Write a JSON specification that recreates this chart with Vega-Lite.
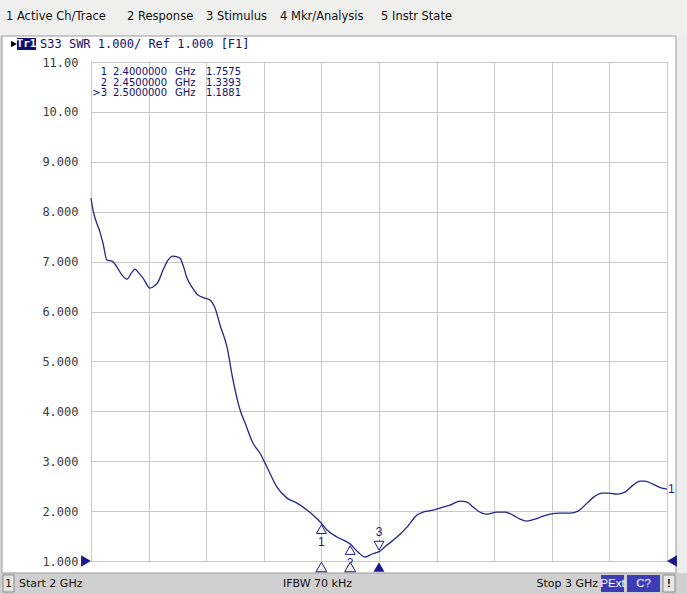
{
  "$schema": "https://vega.github.io/schema/vega-lite/v6.json",
  "width": 576,
  "height": 499,
  "autosize": {"type": "none"},
  "padding": {"left": 91, "top": 62, "right": 20, "bottom": 33},
  "background": "white",
  "config": {
    "view": {"stroke": "#8a8a8a", "strokeWidth": 1},
    "axis": {"gridColor": "#c8c8c8", "gridOpacity": 1, "gridWidth": 1}
  },
  "datasets": {
    "trace": [
      {"freq": 2.000, "swr": 8.27}, {"freq": 2.0035, "swr": 8.03}, {"freq": 2.0156, "swr": 7.59},
      {"freq": 2.0208, "swr": 7.37}, {"freq": 2.0278, "swr": 7.03}, {"freq": 2.0365, "swr": 7.01},
      {"freq": 2.0451, "swr": 6.89}, {"freq": 2.0538, "swr": 6.73}, {"freq": 2.0625, "swr": 6.65},
      {"freq": 2.0712, "swr": 6.79}, {"freq": 2.0764, "swr": 6.85}, {"freq": 2.0816, "swr": 6.79},
      {"freq": 2.0903, "swr": 6.67}, {"freq": 2.1024, "swr": 6.47}, {"freq": 2.1076, "swr": 6.49},
      {"freq": 2.1163, "swr": 6.59}, {"freq": 2.1250, "swr": 6.83}, {"freq": 2.1337, "swr": 7.03},
      {"freq": 2.1424, "swr": 7.11}, {"freq": 2.1545, "swr": 7.07}, {"freq": 2.1597, "swr": 6.93},
      {"freq": 2.1667, "swr": 6.67}, {"freq": 2.1753, "swr": 6.49}, {"freq": 2.1858, "swr": 6.33},
      {"freq": 2.1979, "swr": 6.27}, {"freq": 2.2066, "swr": 6.23}, {"freq": 2.2153, "swr": 6.07},
      {"freq": 2.2240, "swr": 5.73}, {"freq": 2.2361, "swr": 5.29}, {"freq": 2.2465, "swr": 4.63},
      {"freq": 2.2587, "swr": 4.03}, {"freq": 2.2674, "swr": 3.77}, {"freq": 2.2813, "swr": 3.36},
      {"freq": 2.2934, "swr": 3.16}, {"freq": 2.3056, "swr": 2.88}, {"freq": 2.3229, "swr": 2.48},
      {"freq": 2.3403, "swr": 2.26}, {"freq": 2.3576, "swr": 2.16}, {"freq": 2.3750, "swr": 2.02},
      {"freq": 2.3854, "swr": 1.92}, {"freq": 2.4000, "swr": 1.7575}, {"freq": 2.4097, "swr": 1.62},
      {"freq": 2.4271, "swr": 1.48}, {"freq": 2.4500, "swr": 1.3393}, {"freq": 2.4635, "swr": 1.18},
      {"freq": 2.4757, "swr": 1.08}, {"freq": 2.4878, "swr": 1.14}, {"freq": 2.5000, "swr": 1.1881},
      {"freq": 2.5139, "swr": 1.32}, {"freq": 2.5313, "swr": 1.48}, {"freq": 2.5486, "swr": 1.68},
      {"freq": 2.5660, "swr": 1.92}, {"freq": 2.5764, "swr": 1.98}, {"freq": 2.5938, "swr": 2.02},
      {"freq": 2.6111, "swr": 2.08}, {"freq": 2.6233, "swr": 2.12}, {"freq": 2.6406, "swr": 2.20},
      {"freq": 2.6528, "swr": 2.18}, {"freq": 2.6632, "swr": 2.08}, {"freq": 2.6788, "swr": 1.96},
      {"freq": 2.6875, "swr": 1.94}, {"freq": 2.7049, "swr": 1.98}, {"freq": 2.7188, "swr": 1.98},
      {"freq": 2.7326, "swr": 1.92}, {"freq": 2.7448, "swr": 1.84}, {"freq": 2.7569, "swr": 1.80},
      {"freq": 2.7708, "swr": 1.84}, {"freq": 2.7847, "swr": 1.90}, {"freq": 2.7969, "swr": 1.94},
      {"freq": 2.8142, "swr": 1.96}, {"freq": 2.8316, "swr": 1.96}, {"freq": 2.8455, "swr": 2.00},
      {"freq": 2.8611, "swr": 2.16}, {"freq": 2.8750, "swr": 2.30}, {"freq": 2.8872, "swr": 2.36},
      {"freq": 2.8976, "swr": 2.36}, {"freq": 2.9132, "swr": 2.34}, {"freq": 2.9271, "swr": 2.38},
      {"freq": 2.9410, "swr": 2.52}, {"freq": 2.9531, "swr": 2.60}, {"freq": 2.9618, "swr": 2.60},
      {"freq": 2.9757, "swr": 2.54}, {"freq": 2.9913, "swr": 2.46}, {"freq": 3.000, "swr": 2.44}
    ],
    "markers": [
      {"id": "1", "tag": "1", "freq": 2.4, "swr": 1.7575, "active": "no"},
      {"id": "2", "tag": "2", "freq": 2.45, "swr": 1.3393, "active": "no"},
      {"id": ">3", "tag": "3", "freq": 2.5, "swr": 1.1881, "active": "yes"}
    ]
  },
  "layer": [
    {
      "layer": [
        {
          "data": {"values": [{}]},
          "mark": {"type": "rect", "fill": "#efefed", "clip": false},
          "encoding": {
            "x": {"datum": 1.8, "type": "quantitative"}, "x2": {"datum": 3.1},
            "y": {"datum": 12.4, "type": "quantitative"}, "y2": {"datum": 11.521}
          }
        },
        {
          "data": {"values": [{}]},
          "mark": {"type": "rect", "fill": "#d0d0d0", "clip": false},
          "encoding": {
            "x": {"datum": 1.8, "type": "quantitative"}, "x2": {"datum": 3.1},
            "y": {"datum": 0.76, "type": "quantitative"}, "y2": {"datum": 0.2}
          }
        },
        {
          "data": {"values": [{}]},
          "mark": {"type": "rect", "fill": "#d8d8d8", "clip": false},
          "encoding": {
            "x": {"datum": 1.8, "type": "quantitative"}, "x2": {"datum": 1.8455},
            "y": {"datum": 11.521, "type": "quantitative"}, "y2": {"datum": 0.76}
          }
        },
        {
          "data": {"values": [{}]},
          "mark": {"type": "rect", "fill": "#ececec", "clip": false},
          "encoding": {
            "x": {"datum": 3.0156, "type": "quantitative"}, "x2": {"datum": 3.1},
            "y": {"datum": 11.521, "type": "quantitative"}, "y2": {"datum": 0.76}
          }
        },
        {
          "data": {"values": [{}]},
          "mark": {"type": "rect", "fill": null, "stroke": "#9a9a9a", "strokeWidth": 1, "clip": false},
          "encoding": {
            "x": {"datum": 1.8455, "type": "quantitative"}, "x2": {"datum": 3.0156},
            "y": {"datum": 11.521, "type": "quantitative"}, "y2": {"datum": 0.76}
          }
        },
        {
          "data": {"name": "trace"},
          "mark": {"type": "line", "color": "#25258a", "strokeWidth": 1.3, "interpolate": "monotone"},
          "encoding": {
            "x": {
              "field": "freq", "type": "quantitative",
              "scale": {"domain": [2, 3], "nice": false, "zero": false},
              "axis": {"values": [2, 2.1, 2.2, 2.3, 2.4, 2.5, 2.6, 2.7, 2.8, 2.9, 3], "labels": false, "ticks": false, "domain": false, "grid": true, "title": null}
            },
            "y": {
              "field": "swr", "type": "quantitative",
              "scale": {"domain": [1, 11], "nice": false, "zero": false},
              "axis": {"values": [1, 2, 3, 4, 5, 6, 7, 8, 9, 10, 11], "format": ".4r", "labelFont": "DejaVu Sans Mono", "labelFontSize": 12, "labelColor": "#3a3a3a", "labelPadding": 13, "ticks": false, "domain": false, "grid": true, "title": null}
            }
          }
        },
        {
          "data": {"values": [{}]},
          "mark": {"type": "point", "shape": "triangle-right", "filled": true, "color": "#1a1a8c", "size": 130, "xOffset": -5, "opacity": 1},
          "encoding": {"x": {"datum": 2.0, "type": "quantitative"}, "y": {"datum": 1.0, "type": "quantitative"}}
        },
        {
          "data": {"values": [{}]},
          "mark": {"type": "point", "shape": "triangle-left", "filled": true, "color": "#1a1a8c", "size": 130, "xOffset": 5, "opacity": 1},
          "encoding": {"x": {"datum": 3.0, "type": "quantitative"}, "y": {"datum": 1.0, "type": "quantitative"}}
        },
        {
          "data": {"values": [{}]},
          "mark": {"type": "text", "text": "1", "align": "left", "baseline": "middle", "dx": 1, "font": "Liberation Sans", "fontSize": 12, "color": "#1a1a8c"},
          "encoding": {"x": {"datum": 3.0, "type": "quantitative"}, "y": {"datum": 2.44, "type": "quantitative"}}
        },
        {
          "data": {"name": "markers"},
          "transform": [{"filter": "datum.active == 'no'"}],
          "mark": {"type": "point", "shape": "triangle-up", "filled": true, "fill": "white", "stroke": "#1a1a8c", "strokeWidth": 1, "size": 100, "yOffset": 6, "opacity": 1},
          "encoding": {"x": {"field": "freq", "type": "quantitative"}, "y": {"field": "swr", "type": "quantitative"}}
        },
        {
          "data": {"name": "markers"},
          "transform": [{"filter": "datum.active == 'no'"}],
          "mark": {"type": "text", "baseline": "middle", "dy": 19, "font": "Liberation Sans", "fontSize": 12, "color": "#1a1a8c"},
          "encoding": {"x": {"field": "freq", "type": "quantitative"}, "y": {"field": "swr", "type": "quantitative"}, "text": {"field": "tag"}}
        },
        {
          "data": {"name": "markers"},
          "transform": [{"filter": "datum.active == 'yes'"}],
          "mark": {"type": "point", "shape": "triangle-down", "filled": true, "fill": "white", "stroke": "#1a1a8c", "strokeWidth": 1, "size": 100, "yOffset": -6, "opacity": 1},
          "encoding": {"x": {"field": "freq", "type": "quantitative"}, "y": {"field": "swr", "type": "quantitative"}}
        },
        {
          "data": {"name": "markers"},
          "transform": [{"filter": "datum.active == 'yes'"}],
          "mark": {"type": "text", "baseline": "middle", "dy": -20, "font": "Liberation Sans", "fontSize": 12, "color": "#1a1a8c"},
          "encoding": {"x": {"field": "freq", "type": "quantitative"}, "y": {"field": "swr", "type": "quantitative"}, "text": {"field": "tag"}}
        },
        {
          "data": {"name": "markers"},
          "transform": [{"filter": "datum.active == 'no'"}],
          "mark": {"type": "point", "shape": "triangle-up", "filled": true, "fill": "white", "stroke": "#1a1a8c", "strokeWidth": 1, "size": 120, "yOffset": 6, "opacity": 1},
          "encoding": {"x": {"field": "freq", "type": "quantitative"}, "y": {"datum": 1.0, "type": "quantitative"}}
        },
        {
          "data": {"name": "markers"},
          "transform": [{"filter": "datum.active == 'yes'"}],
          "mark": {"type": "point", "shape": "triangle-up", "filled": true, "fill": "#1a1a8c", "size": 120, "yOffset": 6, "opacity": 1},
          "encoding": {"x": {"field": "freq", "type": "quantitative"}, "y": {"datum": 1.0, "type": "quantitative"}}
        },
        {
          "data": {"values": [{}]},
          "mark": {"type": "text", "text": "1 Active Ch/Trace", "align": "left", "baseline": "middle", "font": "DejaVu Sans", "fontSize": 11.5, "color": "#111111"},
          "encoding": {"x": {"datum": 1.8524, "type": "quantitative"}, "y": {"datum": 11.902, "type": "quantitative"}}
        },
        {
          "data": {"values": [{}]},
          "mark": {"type": "text", "text": "2 Response", "align": "left", "baseline": "middle", "font": "DejaVu Sans", "fontSize": 11.5, "color": "#111111"},
          "encoding": {"x": {"datum": 2.0625, "type": "quantitative"}, "y": {"datum": 11.902, "type": "quantitative"}}
        },
        {
          "data": {"values": [{}]},
          "mark": {"type": "text", "text": "3 Stimulus", "align": "left", "baseline": "middle", "font": "DejaVu Sans", "fontSize": 11.5, "color": "#111111"},
          "encoding": {"x": {"datum": 2.1997, "type": "quantitative"}, "y": {"datum": 11.902, "type": "quantitative"}}
        },
        {
          "data": {"values": [{}]},
          "mark": {"type": "text", "text": "4 Mkr/Analysis", "align": "left", "baseline": "middle", "font": "DejaVu Sans", "fontSize": 11.5, "color": "#111111"},
          "encoding": {"x": {"datum": 2.3281, "type": "quantitative"}, "y": {"datum": 11.902, "type": "quantitative"}}
        },
        {
          "data": {"values": [{}]},
          "mark": {"type": "text", "text": "5 Instr State", "align": "left", "baseline": "middle", "font": "DejaVu Sans", "fontSize": 11.5, "color": "#111111"},
          "encoding": {"x": {"datum": 2.5035, "type": "quantitative"}, "y": {"datum": 11.902, "type": "quantitative"}}
        },
        {
          "data": {"values": [{}]},
          "mark": {"type": "point", "shape": "triangle-right", "filled": true, "color": "#000000", "size": 45, "opacity": 1},
          "encoding": {"x": {"datum": 1.8663, "type": "quantitative"}, "y": {"datum": 11.361, "type": "quantitative"}}
        },
        {
          "data": {"values": [{}]},
          "mark": {"type": "rect", "fill": "#10106e", "clip": false},
          "encoding": {
            "x": {"datum": 1.8715, "type": "quantitative"}, "x2": {"datum": 1.9045},
            "y": {"datum": 11.481, "type": "quantitative"}, "y2": {"datum": 11.240}
          }
        },
        {
          "data": {"values": [{}]},
          "mark": {"type": "text", "text": "Tr1", "align": "center", "baseline": "middle", "font": "DejaVu Sans Mono", "fontSize": 11, "fontWeight": "bold", "color": "white"},
          "encoding": {"x": {"datum": 1.888, "type": "quantitative"}, "y": {"datum": 11.361, "type": "quantitative"}}
        },
        {
          "data": {"values": [{}]},
          "mark": {"type": "text", "text": "S33 SWR 1.000/ Ref 1.000 [F1]", "align": "left", "baseline": "middle", "font": "DejaVu Sans Mono", "fontSize": 12, "color": "#10106e"},
          "encoding": {"x": {"datum": 1.9115, "type": "quantitative"}, "y": {"datum": 11.361, "type": "quantitative"}}
        },
        {
          "data": {"values": [{}]},
          "mark": {"type": "rect", "fill": "#e4e4e4", "stroke": "#888888", "strokeWidth": 1, "clip": false},
          "encoding": {
            "x": {"datum": 1.8472, "type": "quantitative"}, "x2": {"datum": 1.8663},
            "y": {"datum": 0.72, "type": "quantitative"}, "y2": {"datum": 0.379}
          }
        },
        {
          "data": {"values": [{}]},
          "mark": {"type": "text", "text": "1", "align": "center", "baseline": "middle", "font": "DejaVu Sans", "fontSize": 11, "color": "#111111"},
          "encoding": {"x": {"datum": 1.8568, "type": "quantitative"}, "y": {"datum": 0.539, "type": "quantitative"}}
        },
        {
          "data": {"values": [{}]},
          "mark": {"type": "text", "text": "Start 2 GHz", "align": "left", "baseline": "middle", "font": "DejaVu Sans", "fontSize": 11, "color": "#111111"},
          "encoding": {"x": {"datum": 1.875, "type": "quantitative"}, "y": {"datum": 0.539, "type": "quantitative"}}
        },
        {
          "data": {"values": [{}]},
          "mark": {"type": "text", "text": "IFBW 70 kHz", "align": "left", "baseline": "middle", "font": "DejaVu Sans", "fontSize": 11, "color": "#111111"},
          "encoding": {"x": {"datum": 2.3333, "type": "quantitative"}, "y": {"datum": 0.539, "type": "quantitative"}}
        },
        {
          "data": {"values": [{}]},
          "mark": {"type": "text", "text": "Stop 3 GHz", "align": "right", "baseline": "middle", "font": "DejaVu Sans", "fontSize": 11, "color": "#111111"},
          "encoding": {"x": {"datum": 2.8802, "type": "quantitative"}, "y": {"datum": 0.539, "type": "quantitative"}}
        },
        {
          "data": {"values": [{}]},
          "mark": {"type": "rect", "fill": "#3c3cb4", "clip": false},
          "encoding": {
            "x": {"datum": 2.8854, "type": "quantitative"}, "x2": {"datum": 2.9253},
            "y": {"datum": 0.72, "type": "quantitative"}, "y2": {"datum": 0.379}
          }
        },
        {
          "data": {"values": [{}]},
          "mark": {"type": "text", "text": "PExt", "align": "center", "baseline": "middle", "font": "Liberation Sans", "fontSize": 11.5, "color": "white"},
          "encoding": {"x": {"datum": 2.9054, "type": "quantitative"}, "y": {"datum": 0.539, "type": "quantitative"}}
        },
        {
          "data": {"values": [{}]},
          "mark": {"type": "rect", "fill": "#3c3cb4", "clip": false},
          "encoding": {
            "x": {"datum": 2.9306, "type": "quantitative"}, "x2": {"datum": 2.9878},
            "y": {"datum": 0.72, "type": "quantitative"}, "y2": {"datum": 0.379}
          }
        },
        {
          "data": {"values": [{}]},
          "mark": {"type": "text", "text": "C?", "align": "center", "baseline": "middle", "font": "Liberation Sans", "fontSize": 11.5, "color": "white"},
          "encoding": {"x": {"datum": 2.9592, "type": "quantitative"}, "y": {"datum": 0.539, "type": "quantitative"}}
        },
        {
          "data": {"values": [{}]},
          "mark": {"type": "rect", "fill": "#e8e8e8", "stroke": "#888888", "strokeWidth": 1, "clip": false},
          "encoding": {
            "x": {"datum": 2.9931, "type": "quantitative"}, "x2": {"datum": 3.0139},
            "y": {"datum": 0.72, "type": "quantitative"}, "y2": {"datum": 0.379}
          }
        },
        {
          "data": {"values": [{}]},
          "mark": {"type": "text", "text": "!", "align": "center", "baseline": "middle", "font": "Liberation Sans", "fontSize": 11.5, "fontWeight": "bold", "color": "#111111"},
          "encoding": {"x": {"datum": 3.0035, "type": "quantitative"}, "y": {"datum": 0.539, "type": "quantitative"}}
        }
      ]
    },
    {
      "data": {"name": "markers"},
      "encoding": {
        "y": {"field": "id", "type": "ordinal", "scale": {"type": "point", "domain": ["1", "2", ">3"], "range": [10, 31], "padding": 0}, "axis": null}
      },
      "layer": [
        {
          "mark": {"type": "text", "align": "right", "baseline": "middle", "font": "DejaVu Sans", "fontSize": 10, "color": "#10106e"},
          "encoding": {"x": {"datum": 2.0278, "type": "quantitative"}, "text": {"field": "id"}}
        },
        {
          "mark": {"type": "text", "align": "left", "baseline": "middle", "font": "DejaVu Sans", "fontSize": 10, "color": "#10106e"},
          "encoding": {"x": {"datum": 2.0382, "type": "quantitative"}, "text": {"field": "freq", "type": "quantitative", "format": ".7f"}}
        },
        {
          "mark": {"type": "text", "align": "left", "baseline": "middle", "font": "DejaVu Sans", "fontSize": 10, "color": "#10106e", "text": "GHz"},
          "encoding": {"x": {"datum": 2.1458, "type": "quantitative"}}
        },
        {
          "mark": {"type": "text", "align": "left", "baseline": "middle", "font": "DejaVu Sans", "fontSize": 10, "color": "#10106e"},
          "encoding": {"x": {"datum": 2.1997, "type": "quantitative"}, "text": {"field": "swr", "type": "quantitative", "format": ".4f"}}
        }
      ]
    }
  ],
  "resolve": {"scale": {"y": "independent"}}
}
